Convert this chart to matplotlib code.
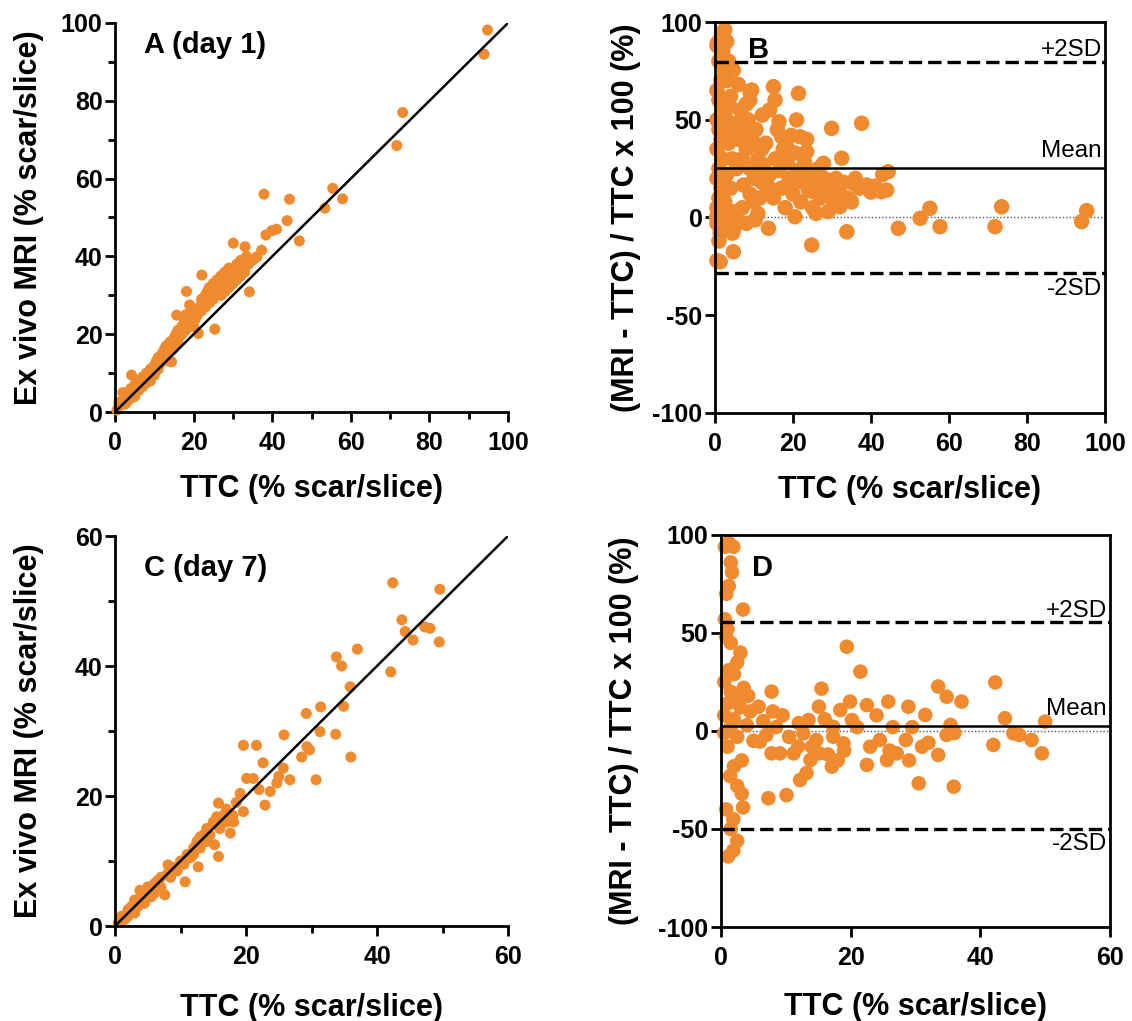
import numpy as np
import matplotlib
matplotlib.use('Agg')
import matplotlib.pyplot as plt
from matplotlib.ticker import MultipleLocator

plt.rcParams['font.family'] = ['Liberation Sans', 'DejaVu Sans']
plt.rcParams['font.weight'] = 'bold'
plt.rcParams['axes.unicode_minus'] = False

ORANGE = '#F08A2E'

# panel A: day 1, TTC vs ex vivo MRI (% scar/slice)
a_pairs = [
    (0.5, 0.5), (1, 1.5), (1.5, 2), (2, 3), (2.5, 2), (3, 4), (3, 2.5), (3.5, 5), (4, 3.5), (4, 6),
    (4.5, 5), (5, 7), (5, 4), (5.5, 6.5), (6, 8), (6, 5.5), (6.5, 7), (7, 9), (7, 6.5), (7.5, 8),
    (8, 10), (8, 7.5), (8.5, 9.5), (9, 11), (9, 8), (9.5, 10.5), (10, 12), (10, 9.5), (4.2, 9.5),
    (2, 5), (1, 2.5), (10.5, 13), (11, 11), (11, 14), (11.5, 12.5), (12, 15), (12, 13), (12.5, 16),
    (13, 14), (13, 17), (13.5, 15), (14, 18), (14, 13), (14.4, 12.9), (14.5, 16), (15, 19), (15, 17),
    (15.5, 20), (15.7, 24.9), (16, 18), (16, 21), (16.5, 19.5), (17, 22), (17, 20), (17.5, 24),
    (18, 21), (18, 25), (18.5, 22), (19, 27.5), (19, 23), (19.5, 24), (20, 26), (20, 22), (18.2, 31),
    (20.5, 24), (21, 25), (21.2, 20.2), (21.5, 27), (22, 29), (22, 26), (22.1, 35.2), (22.5, 28),
    (23, 30), (23, 27), (23.5, 31), (24, 28), (24, 32), (24.5, 30), (25, 29), (25, 33), (25.4, 21.3),
    (25.5, 31), (26, 34), (26, 30), (26.5, 32), (27, 30), (27, 35), (27.5, 33), (28, 31), (28, 36),
    (28.5, 34), (29, 32), (29, 37), (29.5, 35), (30, 33), (30.1, 43.4), (30.5, 36), (31, 34), (31, 38),
    (31.5, 36), (32, 35), (32, 39), (32.6, 38.6), (33, 36), (33.1, 42.5), (34.2, 30.9), (33.5, 40),
    (34, 38), (35, 39), (36.1, 39.9), (37.3, 41.6), (38.4, 45.5), (39.9, 46.6), (41.1, 47.0),
    (37.9, 56.0), (43.8, 49.2), (44.4, 54.7), (46.9, 44.0), (53.4, 52.4), (55.4, 57.5), (57.9, 54.8),
    (71.7, 68.5), (73.2, 77.0), (93.9, 92.0), (94.8, 98.2),
]

# panel B: day 1, Bland-Altman (% difference)
b_pairs = [
    (1.7, 94.2), (0.6, 89.1), (2.5, 96), (1.5, 92), (0.5, 88), (3, 90), (4.7, 75.4), (9.4, 65.2),
    (15, 66.9), (21.4, 63.5), (15.4, 60.1), (8.9, 60), (3.8, 56.7), (37.6, 48.2), (29.9, 45.6),
    (20.9, 49.9), (16.4, 49.0), (12.1, 52.4), (10.7, 37.1), (17.1, 41.3), (21.8, 41.3), (18.4, 36.2),
    (23.5, 33.7), (27.8, 27.7), (32.5, 30.3), (44.4, 23.4), (42.7, 13.2), (38.9, 16.6), (35.5, 17.4),
    (7.3, 16.6), (11.7, 21.7), (13.6, 15.7), (19.5, 18.3), (25.2, 13.2), (30.3, 9.0), (32.0, 5.5),
    (25.9, 2.1), (20.5, 0.4), (13.7, -5.5), (10.3, -1.2), (4.7, -6.4), (1.3, -7.8), (0.4, 0.2),
    (4.7, -17.5), (1.3, -22.6), (24.8, -14.1), (33.8, -7.3), (47.0, -5.5), (52.6, -0.4), (55.1, 4.7),
    (57.7, -4.7), (73.5, 5.5), (71.8, -4.7), (95.3, 3.5), (94.0, -2.1),
    (0.5, -22), (1, -12), (1.5, -6), (0.5, -3), (1, 0), (2, 2), (0.5, 5), (1, 10), (1.5, 15),
    (0.5, 20), (1, 25), (2, 30), (0.5, 35), (1.5, 40), (1, 45), (0.5, 50), (2, 55), (1, 60),
    (0.5, 65), (1.5, 70), (2.5, 75), (1, 80), (2, 85), (3.5, 80), (3, 70), (4, 62), (3, 50),
    (4, 45), (3.5, 38), (4.5, 30), (3, 22), (4, 15), (2.5, 8), (3.5, -2), (4.5, -8), (5, 3),
    (5.5, 48), (6, 40), (6.5, 55), (7, 30), (7.5, 45), (8, 35), (8.5, 50), (9, 25), (9.5, 40),
    (10, 20), (10.5, 45), (11, 30), (11.5, 10), (12, 35), (6, -2), (7, 5), (8, -3), (9, 12),
    (10, 8), (11, 2), (12, 18), (5.5, 25), (6, 68), (8, 58), (9, 64),
    (12.5, 27), (13, 38), (14, 22), (14, 55), (15, 10), (15.5, 30), (16, 45), (16.5, 24), (17, 15),
    (17.5, 35), (18, 5), (18.5, 28), (19, 20), (19.5, 42), (20, 12), (20.5, 33), (21, 24), (22, 8),
    (22.5, 18), (23, 28), (23.5, 40), (24, 14), (24.5, 22), (25, 5), (26, 18), (26.5, 25), (27, 10),
    (28, 20), (28.5, 15), (29, 3), (30, 14), (31, 20), (32, 12), (33, 18), (34, 10), (35, 8),
    (36, 20), (37, 15), (40, 13), (41, 16), (43, 22), (44, 14),
]
b_mean, b_upper, b_lower = 25.5, 79.5, -28.5

# panel C: day 7, TTC vs ex vivo MRI
c_pairs = [
    (0.5, 0.5), (1, 1.5), (1.5, 1), (2, 2.5), (2, 1.5), (2.5, 3), (3, 2), (3, 4), (3.5, 3),
    (3.8, 5.5), (4, 4.5), (4.5, 3.5), (5, 5), (5, 6), (5.5, 4.5), (6, 6.5), (6, 5), (6.5, 7),
    (7, 6), (7, 7.5), (7.6, 4.8), (8, 8), (8.1, 9.4), (8.5, 7.5), (9, 9), (9.5, 8.5), (10, 10),
    (10.5, 9.5), (10.7, 6.8), (11, 11), (11.5, 10.5), (12, 12), (12, 11), (12.5, 13), (12.7, 9.1),
    (13, 13.7), (13, 12), (13.5, 14), (14, 13), (14, 15), (14.5, 14), (15, 16), (15.2, 12.5),
    (15.5, 16.8), (15.8, 18.9), (15.8, 10.7), (16, 15), (16.5, 17), (17, 16), (17, 18), (17.6, 14.3),
    (18, 17), (18.1, 16), (18.5, 19), (19.1, 20.4), (19.6, 17.6), (19.6, 27.8), (20.1, 22.7),
    (21.1, 22.7), (21.6, 27.8), (22, 21), (22.6, 25.1), (22.9, 18.6), (23.7, 20.7), (24.7, 22),
    (25, 23), (25.7, 24.3), (25.8, 29.4), (26.7, 22.5), (28.5, 26), (29.2, 32.7), (29.3, 27.6),
    (29.7, 27.1), (30.7, 22.5), (31.3, 29.9), (31.4, 33.7), (33.7, 29.5), (33.8, 41.4), (34.6, 40),
    (34.9, 33.8), (35.9, 36.8), (36, 26), (37, 42.6), (42.1, 39.1), (42.4, 52.8), (43.8, 47.1),
    (44.3, 45.3), (45.5, 44), (47.3, 46), (48.1, 45.8), (49.5, 43.7), (49.6, 51.8),
]

# panel D: day 7, Bland-Altman
d_pairs = [
    (0.6, 94), (1.9, 94), (1.2, 96), (1.7, 81), (1.5, 86), (1.2, 74), (0.8, 70), (3.4, 62), (0.6, 57),
    (0.8, 48), (1.0, 52), (1.5, 45), (3.0, 40), (1.2, 31), (2.0, 29), (2.5, 35), (0.5, 25), (1.5, 20),
    (2.5, 18), (1.0, 14), (3.0, 12), (0.5, 8), (2.0, 6), (1.5, 2), (0.5, -1), (2.5, -3), (1.0, -8),
    (3.2, -15), (1.4, -23), (2.0, -18), (3.2, -32), (3.4, -39), (2.5, -28), (1.9, -45), (2.5, -56),
    (1.1, -64), (1.9, -61), (1.5, -50), (0.8, -40), (4.0, 3), (4.5, 10), (5.0, -5), (4.2, 18), (3.5, 22),
    (5.8, 12.4), (6.0, -5.4), (7.8, 20.1), (7.3, -34.3), (7.8, -11.4), (9.1, -11.4), (10.1, -32.7),
    (11.2, -11.4), (11.9, -7.9), (12.2, -25), (12.7, -1.2), (13.2, -21.4), (13.5, 5.6), (13.8, -14.8),
    (14.7, -4.6), (15.1, 12.4), (15.1, -11.4), (15.5, 21.6), (17.1, -18.2), (17.3, 2.2), (17.3, -2.9),
    (18.4, 10.7), (18.9, -6.3), (19.4, 43), (19.9, 15), (20.2, 5.6), (6.5, 5), (8.5, 2), (9.5, 8),
    (10.5, -3), (7, -2), (16, 6), (14, -8), (12, 4), (16.5, -12), (18, -15), (19, -10), (8, 10),
    (21.5, 30.3), (22.5, 13.2), (22.5, -17.3), (21, 2), (23, -8), (24.5, -4.6), (25.6, -14.8),
    (25.8, 15), (26, -10), (27.1, -11.4), (28.5, -4.6), (28.9, 12.4), (29.5, 2), (30.5, -26.7),
    (31.5, 8.2), (32, -6), (33.5, 22.7), (33.5, -12.2), (34.8, 17.5), (34.8, -2), (35.4, 3.1),
    (35.9, -28.4), (37.1, 15), (36, -1), (42, -7.1), (42.3, 24.8), (43.8, 6.5), (45.1, -1.2),
    (46, -2), (47.9, -4.6), (49.5, -11.4), (50, 4.8), (24, 8), (26.5, 2), (29, -15), (31, -8),
]
d_mean, d_upper, d_lower = 2.8, 55.4, -49.8

W, H = 1132, 1021
fig = plt.figure(figsize=(W / 100, H / 100), dpi=100)


def add_ax(x0, y_top, x1, y_bot):
    return fig.add_axes([x0 / W, 1 - y_bot / H, (x1 - x0) / W, (y_bot - y_top) / H])


def style(ax, box):
    for s in ax.spines.values():
        s.set_linewidth(2)
    if not box:
        ax.spines['top'].set_visible(False)
        ax.spines['right'].set_visible(False)
    ax.tick_params(which='major', length=7, width=2, labelsize=18)
    ax.tick_params(which='minor', length=5, width=2)
    ax.tick_params(axis='x', pad=7)
    ax.tick_params(axis='y', pad=2)


def scatter_panel(ax, pairs, lim, major, minor, label, size):
    x, y = np.array(pairs).T
    ax.scatter(x, y, s=size, color=ORANGE, edgecolors='none', clip_on=False, zorder=2)
    ax.plot([0, lim], [0, lim], color='black', lw=1.8, zorder=3)
    ax.set_xlim(0, lim)
    ax.set_ylim(0, lim)
    ax.xaxis.set_major_locator(MultipleLocator(major))
    ax.yaxis.set_major_locator(MultipleLocator(major))
    ax.xaxis.set_minor_locator(MultipleLocator(minor))
    ax.yaxis.set_minor_locator(MultipleLocator(minor))
    style(ax, False)
    ax.text(0.075 * lim, 0.943 * lim if lim == 100 else 0.917 * lim, label,
            fontsize=21, fontweight='bold', ha='left', va='center')
    ax.set_xlabel('TTC (% scar/slice)', fontsize=22, fontweight='bold', va='center')
    ax.set_ylabel('Ex vivo MRI (% scar/slice)', fontsize=22, fontweight='bold', va='center')


def ba_panel(ax, pairs, xmax, major, mean, upper, lower, label, size):
    x, y = np.array(pairs).T
    ax.axhline(0, color='#555555', lw=1, ls=(0, (1, 1.5)), zorder=1)
    ax.scatter(x, y, s=size, color=ORANGE, edgecolors='none', clip_on=False, zorder=2)
    ax.axhline(mean, color='black', lw=1.8, zorder=3)
    ax.axhline(upper, color='black', lw=2.4, ls=(0, (4, 1.8)), zorder=3)
    ax.axhline(lower, color='black', lw=2.4, ls=(0, (4, 1.8)), zorder=3)
    ax.set_xlim(0, xmax)
    ax.set_ylim(-100, 100)
    ax.xaxis.set_major_locator(MultipleLocator(major))
    ax.yaxis.set_major_locator(MultipleLocator(50))
    style(ax, True)
    xr = 0.992 * xmax
    ax.text(xr, upper + 6, '+2SD', fontsize=17.5, fontweight='normal', ha='right', va='center')
    ax.text(xr, mean + 8.5, 'Mean', fontsize=17.5, fontweight='normal', ha='right', va='center')
    ax.text(xr, lower - 8, '-2SD', fontsize=17.5, fontweight='normal', ha='right', va='center')
    ax.text(label[1] * xmax, label[2], label[0], fontsize=21, fontweight='bold', ha='left', va='center')
    ax.set_xlabel('TTC (% scar/slice)', fontsize=22, fontweight='bold', va='center')
    ax.set_ylabel('(MRI - TTC) / TTC x 100 (%)', fontsize=22, fontweight='bold', va='center')


ax_a = add_ax(115, 23, 508, 412)
scatter_panel(ax_a, a_pairs, 100, 20, 10, 'A (day 1)', 63)
ax_a.xaxis.set_label_coords(0.5, -0.198)
ax_a.yaxis.set_label_coords(-0.219, 0.5)

ax_b = add_ax(715, 22, 1105, 413)
ba_panel(ax_b, b_pairs, 100, 20, b_mean, b_upper, b_lower, ('B', 0.085, 85.7), 125)
ax_b.xaxis.set_label_coords(0.5, -0.197)
ax_b.yaxis.set_label_coords(-0.228, 0.5)

ax_c = add_ax(115, 536, 508, 926)
scatter_panel(ax_c, c_pairs, 60, 20, 10, 'C (day 7)', 63)
ax_c.xaxis.set_label_coords(0.5, -0.21)
ax_c.yaxis.set_label_coords(-0.219, 0.5)

ax_d = add_ax(721, 535, 1110, 927)
ba_panel(ax_d, d_pairs, 60, 20, d_mean, d_upper, d_lower, ('D', 0.08, 83.2), 110)
ax_d.xaxis.set_label_coords(0.5, -0.204)
ax_d.yaxis.set_label_coords(-0.249, 0.5)

fig.savefig('out.png', dpi=100)
